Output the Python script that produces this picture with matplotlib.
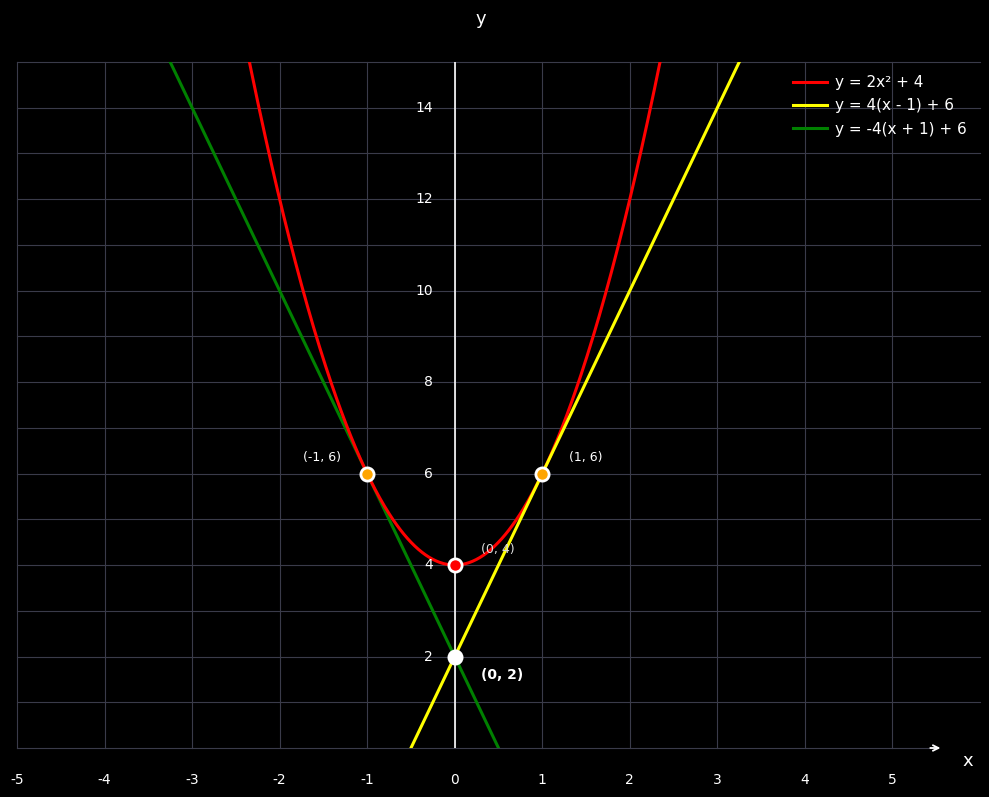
import matplotlib.pyplot as plt
import numpy as np

# curve definitions
parab_coef = [2, 0, 4]          # y = 2x^2 + 4
tan_right_coef = [4, -4 + 6]    # y = 4(x - 1) + 6
tan_left_coef = [-4, -4 + 6]    # y = -4(x + 1) + 6
labels = ['y = 2x² + 4', 'y = 4(x - 1) + 6', 'y = -4(x + 1) + 6']
colors = ['red', 'yellow', 'green']

pt_x = [0, 1, -1, 0]
pt_y = [4, 6, 6, 2]
pt_fill = ['red', 'orange', 'orange', 'white']
pt_text = ['(0, 4)', '(1, 6)', '(-1, 6)', '(0, 2)']

xticks = [-5, -4, -3, -2, -1, 0, 1, 2, 3, 4, 5]
yticks = [2, 4, 6, 8, 10, 12, 14]

gridc = '#3a3b4a'

fig = plt.figure(figsize=(9.89, 7.97), dpi=100, facecolor='black')
ax = fig.add_axes([17/989, 1 - 748/797, 963/989, 686/797])
ax.set_facecolor('black')
ax.set_xlim(-5, 6)
ax.set_ylim(0, 15)
ax.axis('off')

for yv in range(1, 16):
    ax.plot([-5, 6], [yv, yv], color=gridc, lw=0.8, zorder=0, clip_on=False)
for xv in xticks:
    ax.plot([xv, xv], [0, 15], color=gridc, lw=0.8, zorder=0, clip_on=False)
ax.plot([-5, 5.5], [0, 0], color=gridc, lw=0.8, zorder=0, clip_on=False)
ax.annotate('', xy=(5.58, 0), xytext=(5.4, 0),
            arrowprops=dict(arrowstyle='->', color='white', lw=1.3), annotation_clip=False)
ax.plot([0, 0], [0, 15], color='white', lw=1.2, zorder=1)

xs = np.linspace(-5, 6, 800)
ax.plot(xs, np.polyval(parab_coef, xs), color=colors[0], lw=2.2, label=labels[0], zorder=3)
ax.plot(xs, np.polyval(tan_right_coef, xs), color=colors[1], lw=2.2, label=labels[1], zorder=3)
ax.plot(xs, np.polyval(tan_left_coef, xs), color=colors[2], lw=2.2, label=labels[2], zorder=2)

for x, y, c in zip(pt_x, pt_y, pt_fill):
    ax.plot(x, y, 'o', ms=9.5, mfc=c, mec='white', mew=2, zorder=5)

ax.text(0.3, 4.2, pt_text[0], color='#dddddd', fontsize=9, ha='left', va='bottom', zorder=4)
ax.text(1.3, 6.2, pt_text[1], color='white', fontsize=9, ha='left', va='bottom')
ax.text(-1.3, 6.2, pt_text[2], color='white', fontsize=9, ha='right', va='bottom')
ax.text(0.3, 1.6, pt_text[3], color='white', fontsize=10, fontweight='bold', ha='left', va='center')

for yv in yticks:
    ax.text(-0.25, yv, str(yv), color='white', fontsize=10, ha='right', va='center')
for xv in xticks:
    ax.text(xv, -0.7, str(xv), color='white', fontsize=10, ha='center', va='center', clip_on=False)

ax.text(5.86, -0.28, 'x', color='white', fontsize=13, ha='center', va='center', clip_on=False)
ax.text(0.3, 15.93, 'y', color='white', fontsize=13, ha='center', va='center', clip_on=False)

leg = ax.legend(loc='upper right', frameon=False, fontsize=11, labelcolor='white',
                handlelength=2.2, handletextpad=0.55, borderaxespad=0.4, labelspacing=0.55,
                bbox_to_anchor=(0.999, 0.999))

fig.savefig('out.png', dpi=100, facecolor='black')
